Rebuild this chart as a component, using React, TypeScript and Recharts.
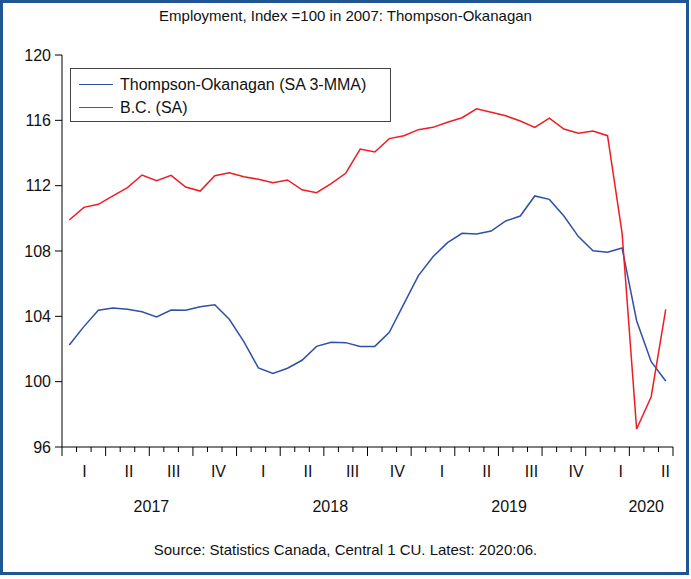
import React from 'react';
import { LineChart, Line, XAxis, YAxis, Legend } from 'recharts';

// Jan 2017 .. Jun 2020, monthly
const months = [
  '2017-01', '2017-02', '2017-03', '2017-04', '2017-05', '2017-06', '2017-07', '2017-08', '2017-09', '2017-10', '2017-11', '2017-12',
  '2018-01', '2018-02', '2018-03', '2018-04', '2018-05', '2018-06', '2018-07', '2018-08', '2018-09', '2018-10', '2018-11', '2018-12',
  '2019-01', '2019-02', '2019-03', '2019-04', '2019-05', '2019-06', '2019-07', '2019-08', '2019-09', '2019-10', '2019-11', '2019-12',
  '2020-01', '2020-02', '2020-03', '2020-04', '2020-05', '2020-06',
];

const thompsonOkanagan = [
  102.24, 103.37, 104.37, 104.51, 104.43, 104.28, 103.96, 104.39, 104.37, 104.59, 104.71, 103.82,
  102.45, 100.84, 100.51, 100.82, 101.31, 102.16, 102.41, 102.39, 102.16, 102.16, 103.02, 104.76,
  106.49, 107.65, 108.51, 109.08, 109.04, 109.22, 109.84, 110.14, 111.37, 111.16, 110.14, 108.88,
  108.02, 107.92, 108.18, 103.73, 101.22, 100.04,
];

const bc = [
  109.9, 110.67, 110.86, 111.37, 111.88, 112.65, 112.3, 112.63, 111.92, 111.67, 112.61, 112.79,
  112.55, 112.39, 112.18, 112.35, 111.75, 111.57, 112.12, 112.76, 114.24, 114.06, 114.88, 115.06,
  115.43, 115.57, 115.88, 116.16, 116.71, 116.49, 116.28, 115.96, 115.57, 116.14, 115.47, 115.21,
  115.35, 115.06, 109.1, 97.1, 99.08, 104.43,
];

const yTicks = [96, 100, 104, 108, 112, 116, 120];
const quarterLabels = ['I', 'II', 'III', 'IV', 'I', 'II', 'III', 'IV', 'I', 'II', 'III', 'IV', 'I', 'II'];
const yearLabels = ['2017', '2018', '2019', '2020'];
const yearCenters = [6, 18, 30, 39.2];

const BLUE = '#2e50a8';
const RED = '#ee1c25';
const FONT = '"Liberation Sans", Arial, sans-serif';

const data = months.map((m, i) => ({
  x: i + 0.5,
  month: m,
  thompson: thompsonOkanagan[i],
  bc: bc[i],
}));

const monthTicks = months.map((_, i) => i).concat([months.length]);
const quarterTicks = quarterLabels.map((_, i) => i * 3 + 1.5);

function MonthTick(props: any) {
  const { x, y, payload } = props;
  const len = payload.value % 3 === 0 ? 9 : 5;
  return <line x1={x} x2={x} y1={y} y2={y + len} stroke="#000" strokeWidth={1} />;
}

function QuarterTick(props: any) {
  const { x, y, index } = props;
  return (
    <text x={x} y={y + 10} textAnchor="middle" fontFamily={FONT} fontSize={16} fill="#111">
      {quarterLabels[index]}
    </text>
  );
}

function YearTick(props: any) {
  const { x, y, index } = props;
  return (
    <text x={x} y={y + 15} textAnchor="middle" fontFamily={FONT} fontSize={16} fill="#111">
      {yearLabels[index]}
    </text>
  );
}

function LegendBox() {
  const rows = [
    { label: 'Thompson-Okanagan (SA 3-MMA)', color: BLUE },
    { label: 'B.C. (SA)', color: RED },
  ];
  return (
    <div style={{ border: '1px solid #444', width: 321, height: 54, boxSizing: 'border-box', padding: '4px 0 0 8px', background: '#fff' }}>
      {rows.map((r) => (
        <div key={r.label} style={{ display: 'flex', alignItems: 'center', height: 23, fontFamily: FONT, fontSize: 16, color: '#111' }}>
          <span style={{ display: 'inline-block', width: 34, height: 1.5, background: r.color, marginRight: 7 }} />
          <span>{r.label}</span>
        </div>
      ))}
    </div>
  );
}

export default function App() {
  return (
    <div style={{ position: 'absolute', left: 0, top: 0, width: 691, height: 579, background: '#fff' }}>
      <div style={{ position: 'absolute', left: 0, top: 0, width: 689, height: 575, border: '3px solid #1f5592', boxSizing: 'border-box' }} />
      <div style={{ position: 'absolute', left: 0, top: 7, width: 691, textAlign: 'center', fontFamily: FONT, fontSize: 15, color: '#111' }}>
        Employment, Index =100 in 2007: Thompson-Okanagan
      </div>
      <div style={{ position: 'absolute', left: 0, top: 541, width: 691, textAlign: 'center', fontFamily: FONT, fontSize: 15, color: '#111' }}>
        Source: Statistics Canada, Central 1 CU. Latest: 2020:06.
      </div>
      <div style={{ position: 'absolute', left: 0, top: 0 }}>
        <LineChart width={691} height={579} data={data} margin={{ top: 55, right: 18, bottom: 60, left: 0 }}>
          <XAxis xAxisId="m" dataKey="x" type="number" domain={[0, 42]} ticks={monthTicks} tick={<MonthTick />} tickLine={false} tickSize={0} tickMargin={0} axisLine={{ stroke: '#000' }} height={12} interval={0} />
          <XAxis xAxisId="q" type="number" domain={[0, 42]} ticks={quarterTicks} tick={<QuarterTick />} tickLine={false} axisLine={false} height={30} interval={0} />
          <XAxis xAxisId="y" type="number" domain={[0, 42]} ticks={yearCenters} tick={<YearTick />} tickLine={false} axisLine={false} height={30} interval={0} />
          <XAxis xAxisId="top" orientation="top" type="number" domain={[0, 42]} tick={false} tickLine={false} axisLine={{ stroke: '#000' }} height={0} />
          <YAxis yAxisId="l" domain={[96, 120]} ticks={yTicks} interval={0} width={62} tickSize={7} tickLine={{ stroke: '#000' }} axisLine={{ stroke: '#000' }} tick={{ fontFamily: FONT, fontSize: 16, fill: '#111' }} tickMargin={4} />
          <YAxis yAxisId="r" orientation="right" domain={[96, 120]} tick={false} tickLine={false} axisLine={{ stroke: '#000' }} width={0} />
          <Legend content={<LegendBox />} layout="horizontal" verticalAlign="middle" align="center" wrapperStyle={{ position: 'absolute', left: 70, top: 68, width: 'auto', height: 'auto' }} />
          <Line xAxisId="m" yAxisId="l" dataKey="thompson" stroke={BLUE} strokeWidth={1.5} dot={false} isAnimationActive={false} />
          <Line xAxisId="m" yAxisId="l" dataKey="bc" stroke={RED} strokeWidth={1.5} dot={false} isAnimationActive={false} />
        </LineChart>
      </div>
    </div>
  );
}
